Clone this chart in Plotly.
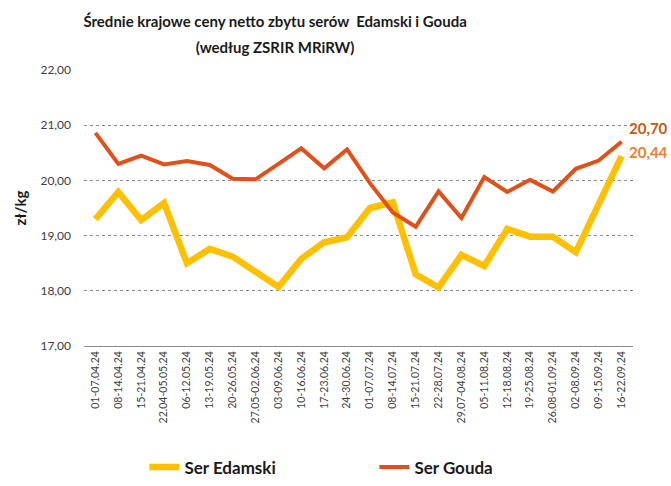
import plotly.graph_objects as go

weeks = [
    "01-07.04.24", "08-14.04.24", "15-21.04.24", "22.04-05.05.24", "06-12.05.24",
    "13-19.05.24", "20-26.05.24", "27.05-02.06.24", "03-09.06.24", "10-16.06.24",
    "17-23.06.24", "24-30.06.24", "01-07.07.24", "08-14.07.24", "15-21.07.24",
    "22-28.07.24", "29.07-04.08.24", "05-11.08.24", "12-18.08.24", "19-25.08.24",
    "26.08-01.09.24", "02-08.09.24", "09-15.09.24", "16-22.09.24",
]

edamski = [
    19.30, 19.79, 19.28, 19.59, 18.50, 18.76, 18.62, 18.35, 18.07, 18.58,
    18.88, 18.97, 19.50, 19.60, 18.30, 18.06, 18.65, 18.45, 19.12, 18.98,
    18.98, 18.70, 19.55, 20.44,
]

gouda = [
    20.86, 20.30, 20.45, 20.29, 20.35, 20.28, 20.03, 20.02, 20.30, 20.58,
    20.22, 20.56, 19.95, 19.42, 19.16, 19.80, 19.32, 20.06, 19.79, 20.01,
    19.80, 20.21, 20.36, 20.70,
]

y_ticks = [17, 18, 19, 20, 21, 22]

FONT = "Lato, 'Open Sans', sans-serif"
YELLOW = "#FFC000"
RED = "#E2501A"

fig = go.Figure()

fig.add_trace(
    go.Scatter(
        x=weeks,
        y=edamski,
        name="<b>Ser Edamski</b>",
        mode="lines",
        line=dict(color=YELLOW, width=6.5),
    )
)

fig.add_trace(
    go.Scatter(
        x=weeks,
        y=gouda,
        name="<b>Ser Gouda</b>",
        mode="lines",
        line=dict(color=RED, width=4),
    )
)

# end-of-line value labels
fig.add_annotation(
    x=weeks[-1], y=gouda[-1], text="<b>20,70</b>", showarrow=False,
    xanchor="left", xshift=5, yshift=14,
    font=dict(size=15, color="#C55A11"),
)
fig.add_annotation(
    x=weeks[-1], y=edamski[-1], text="<b>20,44</b>", showarrow=False,
    xanchor="left", xshift=5, yshift=4,
    font=dict(size=15, color="#ED7D31"),
)

# larger title font sets the line spacing, the span keeps the glyphs smaller
title_text = (
    "<span style='font-size:15px'><b>Średnie krajowe ceny netto zbytu serów  Edamski i Gouda"
    "<br>(według ZSRIR MRiRW)</b></span>"
)

fig.update_layout(
    width=671,
    height=486,
    autosize=False,
    paper_bgcolor="white",
    plot_bgcolor="white",
    separators=", ",
    font=dict(family=FONT, color="#404040"),
    margin=dict(l=84, r=38, t=70, b=140, autoexpand=False),
    title=dict(
        text=title_text,
        x=0.41,
        xanchor="center",
        yref="container",
        y=0.945,
        yanchor="top",
        font=dict(family=FONT, size=20, color="#1a1a1a"),
    ),
    xaxis=dict(
        type="category",
        range=[-0.5, 23.5],
        tickangle=-90,
        tickfont=dict(size=10.5, color="#404040"),
        showgrid=False,
        showline=True,
        linecolor="#8c8c8c",
        linewidth=1,
        ticks="",
    ),
    yaxis=dict(
        range=[17, 22],
        tickvals=y_ticks,
        tickformat=".2f",
        tickfont=dict(size=12, color="#404040"),
        showgrid=True,
        gridcolor="#8c8c8c",
        griddash="dot",
        gridwidth=1,
        zeroline=False,
        ticks="",
        ticklabelstandoff=12,
        title=dict(
            text="<b>zł/kg</b>",
            font=dict(size=15, color="#1a1a1a"),
            standoff=10,
        ),
    ),
    showlegend=True,
    legend=dict(
        orientation="h",
        x=0.11,
        y=-0.44,
        xanchor="left",
        yanchor="middle",
        entrywidth=185,
        itemwidth=30,
        font=dict(size=17, color="#1a1a1a", family=FONT),
    ),
)

fig.write_html(
    "out.html",
    config={"displayModeBar": False},
    post_script="document.body.style.margin='0';",
)
